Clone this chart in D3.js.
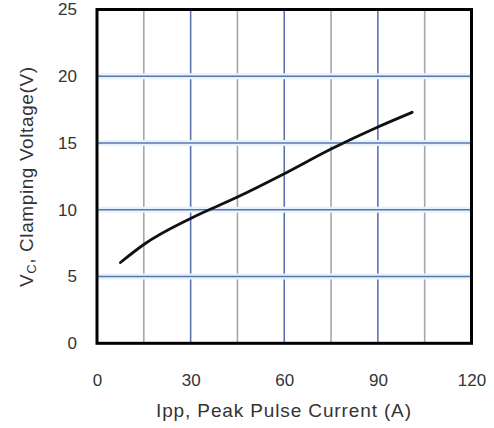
<!doctype html>
<html lang="en">
<head>
  <meta charset="utf-8">
  <title>Clamping Voltage vs Peak Pulse Current - D3</title>
  <style>
    body { margin: 0; background: #fff; }
    svg text { font-family: "Liberation Sans", Arial, sans-serif; fill: #333; }
  </style>
</head>
<body>
  <svg></svg>
  <script src="https://cdn.jsdelivr.net/npm/d3@7/dist/d3.min.js"></script>
  <script>
    const width = 494;
    const height = 428;
    const margin = { top: 9.5, right: 22.5, bottom: 84.7, left: 97 };

    // 数据：峰值脉冲电流 (A) 与箝位电压 (V)
    const currents = [7.5, 15, 30, 45, 60, 75, 90, 101];
    const voltages = [6.05, 7.4, 9.35, 10.95, 12.7, 14.55, 16.2, 17.3];
    const xTicks = [0, 30, 60, 90, 120];
    const xMinorGrid = [15, 45, 75, 105];
    const yTicks = [0, 5, 10, 15, 20, 25];

    const svg = d3.select('svg')
      .attr('width', width)
      .attr('height', height)
      .attr('viewBox', [0, 0, width, height]);

    const innerW = width - margin.left - margin.right;
    const innerH = height - margin.top - margin.bottom;

    const x = d3.scaleLinear().domain([0, 120]).range([margin.left, margin.left + innerW]);
    const y = d3.scaleLinear().domain([0, 25]).range([margin.top + innerH, margin.top]);

    // 网格线
    const grid = svg.append('g');
    grid.selectAll('.vminor')
      .data(xMinorGrid)
      .join('line')
      .attr('x1', d => x(d)).attr('x2', d => x(d))
      .attr('y1', y(25)).attr('y2', y(0))
      .attr('stroke', '#a4a6ab')
      .attr('stroke-width', 1.6);

    grid.selectAll('.vmajor')
      .data(xTicks.slice(1, -1))
      .join('line')
      .attr('x1', d => x(d)).attr('x2', d => x(d))
      .attr('y1', y(25)).attr('y2', y(0))
      .attr('stroke', '#5b74b0')
      .attr('stroke-width', 1.6);

    grid.selectAll('.hhalo')
      .data(yTicks.slice(1, -1))
      .join('line')
      .attr('x1', x(0)).attr('x2', x(120))
      .attr('y1', d => y(d)).attr('y2', d => y(d))
      .attr('stroke', '#e6f3fc')
      .attr('stroke-width', 6);

    grid.selectAll('.hmajor')
      .data(yTicks.slice(1, -1))
      .join('line')
      .attr('x1', x(0)).attr('x2', x(120))
      .attr('y1', d => y(d)).attr('y2', d => y(d))
      .attr('stroke', '#5b74b0')
      .attr('stroke-width', 1.6);

    // 曲线
    const points = currents.map((c, i) => [c, voltages[i]]);
    svg.append('path')
      .datum(points)
      .attr('fill', 'none')
      .attr('stroke', '#111')
      .attr('stroke-width', 2.8)
      .attr('stroke-linecap', 'round')
      .attr('d', d3.line().x(d => x(d[0])).y(d => y(d[1])).curve(d3.curveMonotoneX));

    // 边框
    svg.append('rect')
      .attr('x', x(0)).attr('y', y(25))
      .attr('width', innerW).attr('height', innerH)
      .attr('fill', 'none')
      .attr('stroke', '#000')
      .attr('stroke-width', 3);

    // 横坐标
    const xAxis = d3.axisBottom(x).tickValues(xTicks).tickSize(0).tickPadding(0);
    svg.append('g')
      .attr('transform', 'translate(0,' + y(0) + ')')
      .call(xAxis)
      .call(g => g.select('.domain').remove())
      .call(g => g.selectAll('text')
        .attr('dy', null)
        .attr('y', 43)
        .attr('font-size', 17)
        .attr('fill', '#333'));

    // 竖坐标
    const yAxis = d3.axisLeft(y).tickValues(yTicks).tickSize(0).tickPadding(0);
    svg.append('g')
      .attr('transform', 'translate(' + (x(0) - 20) + ',0)')
      .call(yAxis)
      .call(g => g.select('.domain').remove())
      .call(g => g.selectAll('text')
        .attr('font-size', 17)
        .attr('fill', '#333'));

    // 坐标轴标题
    svg.append('text')
      .attr('x', 283.5)
      .attr('y', 417)
      .attr('text-anchor', 'middle')
      .attr('font-size', 19)
      .attr('textLength', 255)
      .attr('lengthAdjust', 'spacing')
      .text('Ipp, Peak Pulse Current (A)');

    const yTitle = svg.append('text')
      .attr('transform', 'translate(33,177) rotate(-90)')
      .attr('text-anchor', 'middle')
      .attr('font-size', 19)
      .attr('textLength', 220)
      .attr('lengthAdjust', 'spacing');
    yTitle.append('tspan').text('V');
    yTitle.append('tspan').attr('font-size', 13).attr('dy', 3).text('C');
    yTitle.append('tspan').attr('dy', -3).text(', Clamping Voltage(V)');
  </script>
</body>
</html>
